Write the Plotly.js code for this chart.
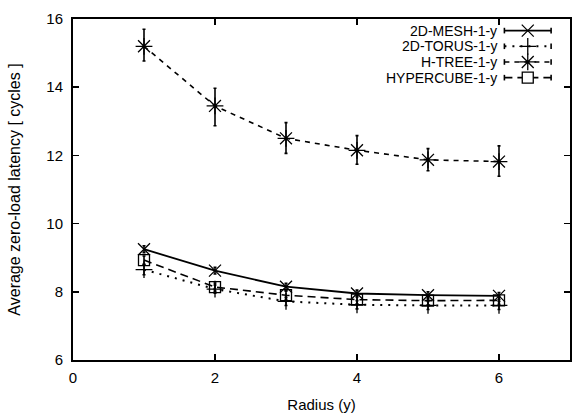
<!DOCTYPE html>
<html>
<head>
<meta charset="utf-8">
<script src="https://cdn.plot.ly/plotly-3.0.1.min.js"></script>
<style>html,body{margin:0;padding:0;background:#fff;}#chart{width:577px;height:417px;}</style>
</head>
<body>
<div id="chart"></div>
<script>
// Data
const radius = [1, 2, 3, 4, 5, 6];
const seriesNames = ["2D-MESH-1-y", "2D-TORUS-1-y", "H-TREE-1-y", "HYPERCUBE-1-y"];
const meshY = [9.25, 8.62, 8.15, 7.95, 7.90, 7.88];
const meshErr = [0.10, 0.10, 0.10, 0.10, 0.10, 0.10];
const torusY = [8.65, 8.08, 7.72, 7.62, 7.60, 7.60];
const torusErr = [0.15, 0.12, 0.12, 0.12, 0.12, 0.12];
const htreeY = [15.20, 13.45, 12.50, 12.15, 11.87, 11.82];
const htreeErrPlus = [0.50, 0.52, 0.46, 0.43, 0.33, 0.46];
const htreeErrMinus = [0.43, 0.58, 0.44, 0.41, 0.32, 0.43];
const hyperY = [8.93, 8.14, 7.90, 7.77, 7.74, 7.75];
const hyperErr = [0.12, 0.12, 0.12, 0.12, 0.12, 0.12];
const xTicks = [0, 2, 4, 6];
const yTicks = [6, 8, 10, 12, 14, 16];

const styles = [
  {dash: "solid", width: 1.8, symbol: "x-thin-open", legSymbol: "x-thin-open", fill: "#000", size: 12},
  {dash: "2px,6px", width: 2, symbol: "cross-thin-open", legSymbol: "cross-thin-open", fill: "#000", size: 12},
  {dash: "5px,5px", width: 1.6, symbol: "asterisk-open", legSymbol: "asterisk-open", fill: "#000", size: 14},
  {dash: "8px,5px", width: 1.6, symbol: "square-open", legSymbol: "square", fill: "#fff", size: 11}
];
const yData = [meshY, torusY, htreeY, hyperY];
const errPlus = [meshErr, torusErr, htreeErrPlus, hyperErr];
const errMinus = [meshErr, torusErr, htreeErrMinus, hyperErr];

const traces = [];
for (let i = 0; i < 4; i++) {
  traces.push({
    type: "scatter", mode: "lines+markers", name: seriesNames[i],
    x: radius, y: yData[i],
    line: {color: "#000", width: styles[i].width, dash: styles[i].dash},
    marker: {symbol: styles[i].symbol, size: styles[i].size, color: "#000", line: {color: "#000", width: 1.3}},
    error_y: {type: "data", symmetric: false, array: errPlus[i], arrayminus: errMinus[i], color: "#000", thickness: 1.6, width: 1.5},
    cliponaxis: false,
    showlegend: false, hoverinfo: "x+y"
  });
}

// Legend samples (text left, sample right, like gnuplot)
const legX0 = 0.868, legX1 = 0.962, legXm = 0.915;
const legRows = [0.966, 0.920, 0.874, 0.828];
const annotations = [];
for (let i = 0; i < 4; i++) {
  traces.push({
    type: "scatter", mode: "lines", xaxis: "x2", yaxis: "y2",
    x: [legX0, legX1], y: [legRows[i], legRows[i]],
    line: {color: "#000", width: styles[i].width, dash: styles[i].dash},
    showlegend: false, hoverinfo: "skip"
  });
  traces.push({
    type: "scatter", mode: "markers", xaxis: "x2", yaxis: "y2",
    x: [legX0, legX1], y: [legRows[i], legRows[i]],
    marker: {symbol: "line-ns-open", size: 4, color: "#000", line: {color: "#000", width: 1.6}},
    showlegend: false, hoverinfo: "skip"
  });
  traces.push({
    type: "scatter", mode: "markers", xaxis: "x2", yaxis: "y2",
    x: [legXm], y: [legRows[i]],
    marker: {symbol: styles[i].legSymbol, size: styles[i].size, color: styles[i].fill, line: {color: "#000", width: 1.3}},
    showlegend: false, hoverinfo: "skip"
  });
  annotations.push({
    xref: "x2", yref: "y2", x: 0.855, y: legRows[i], text: seriesNames[i],
    showarrow: false, xanchor: "right", yanchor: "middle", borderpad: 0,
    font: {family: "Liberation Sans, Arial, sans-serif", size: 14, color: "#000"}
  });
}

const layout = {
  width: 577, height: 417,
  margin: {l: 73, r: 7, t: 19, b: 57},
  paper_bgcolor: "#fff", plot_bgcolor: "#fff",
  font: {family: "Liberation Sans, Arial, sans-serif", size: 15, color: "#000"},
  showlegend: false,
  xaxis: {
    range: [0, 7], tickvals: xTicks, ticktext: xTicks.map(String),
    ticks: "inside", ticklen: 6, tickwidth: 1.5, tickcolor: "#000",
    showline: true, linecolor: "#000", linewidth: 2, mirror: "allticks",
    showgrid: false, zeroline: false, ticklabelstandoff: 3,
    tickfont: {size: 15},
    title: {text: "Radius (y)", font: {size: 15}, standoff: 14}
  },
  yaxis: {
    range: [6, 16], tickvals: yTicks, ticktext: yTicks.map(String),
    ticks: "inside", ticklen: 6, tickwidth: 1.5, tickcolor: "#000",
    showline: true, linecolor: "#000", linewidth: 2, mirror: "allticks",
    showgrid: false, zeroline: false, ticklabelstandoff: 5,
    tickfont: {size: 15},
    title: {text: "Average zero-load latency [ cycles ]", font: {size: 16}, standoff: 22}
  },
  xaxis2: {domain: [0, 1], range: [0, 1], overlaying: "x", anchor: "y2", visible: false, fixedrange: true},
  yaxis2: {domain: [0, 1], range: [0, 1], overlaying: "y", anchor: "x2", visible: false, fixedrange: true},
  annotations: annotations
};

Plotly.newPlot("chart", traces, layout, {displayModeBar: false, staticPlot: true});
</script>
</body>
</html>
